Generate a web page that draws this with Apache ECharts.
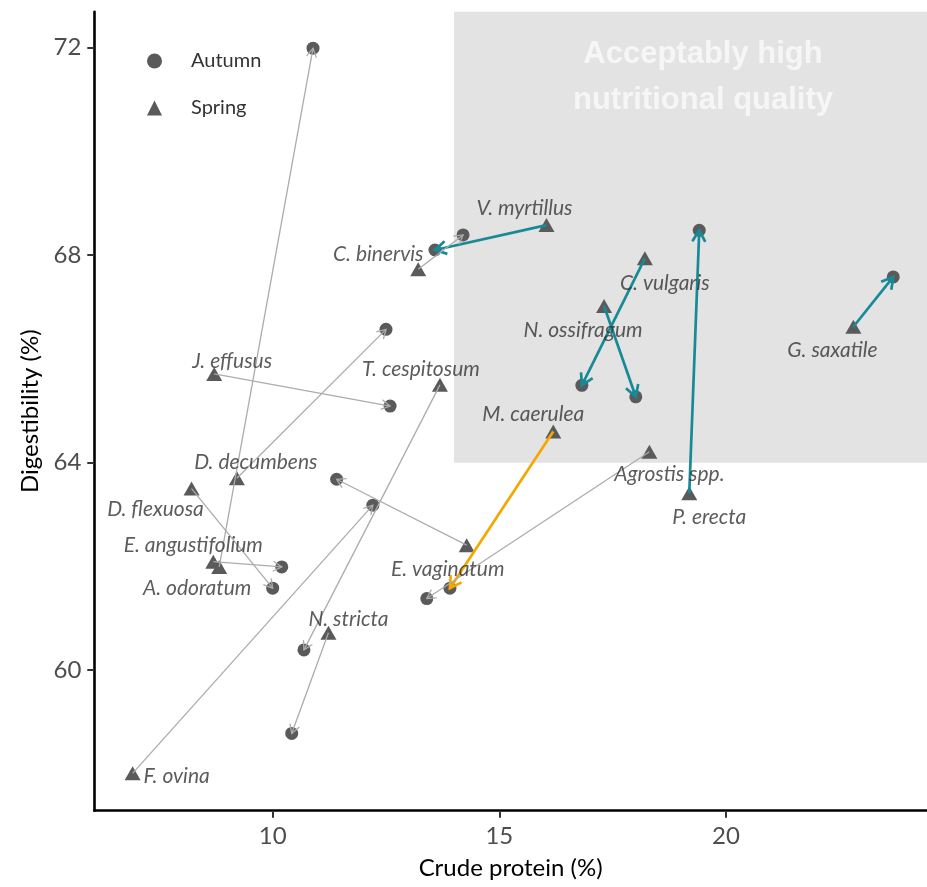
<!DOCTYPE html>
<html>
<head>
<meta charset="utf-8">
<script src="https://cdn.jsdelivr.net/npm/echarts@6/dist/echarts.min.js"></script>
<style>
  html, body { margin: 0; padding: 0; background: #fff; }
  #chart { width: 927px; height: 887px; }
</style>
</head>
<body>
<div id="chart"></div>
<script>
// Species sampled in spring and again in autumn
const species = ['V. myrtillus', 'C. binervis', 'C. vulgaris', 'N. ossifragum', 'G. saxatile',
  'P. erecta', 'J. effusus', 'T. cespitosum', 'M. caerulea', 'Agrostis spp.', 'D. decumbens',
  'D. flexuosa', 'E. angustifolium', 'A. odoratum', 'E. vaginatum', 'N. stricta', 'F. ovina'];

// Crude protein (%) and digestibility (%) per season
const springCP  = [16.04, 13.21, 18.21, 17.31, 22.81, 19.19, 8.71, 13.69, 16.19, 18.31, 9.21, 8.21, 8.69, 8.82, 14.28, 11.23, 6.91];
const springDig = [68.58, 67.73, 67.94, 67.02, 66.62, 63.41, 65.71, 65.50, 64.60, 64.21, 63.70, 63.50, 62.09, 61.99, 62.41, 60.72, 58.01];
const autumnCP  = [13.58, 14.20, 16.82, 18.01, 23.69, 19.41, 12.59, 10.69, 13.91, 13.40, 12.50, 10.00, 10.20, 10.89, 11.41, 10.42, 12.21];
const autumnDig = [68.10, 68.39, 65.49, 65.27, 67.58, 68.48, 65.09, 60.39, 61.58, 61.38, 66.57, 61.58, 61.99, 71.99, 63.68, 58.78, 63.18];

// Arrow class for each species
const arrowGroup = ['quality', 'other', 'quality', 'quality', 'quality', 'quality', 'other', 'other',
  'declining', 'other', 'other', 'other', 'other', 'other', 'other', 'other', 'other'];

// Thresholds of the acceptable-quality zone
const cpThreshold = 14;
const digThreshold = 64;

// Axis ticks
const xTicks = [10, 15, 20];
const yTicks = [60, 64, 68, 72];

// ---- presentation ----
const xMin = 6.065, xMax = 24.434, yMin = 57.29, yMax = 72.694;
const FONT = 'Lato, "Open Sans", sans-serif';
const arrowStyle = {
  quality:   { color: '#178a96', width: 2.7, head: 13 },
  declining: { color: '#f5a700', width: 2.7, head: 13 },
  other:     { color: '#acacac', width: 1.3, head: 10 }
};
// label nudges in pixels, relative to the spring point
const labelNudge = {
  'V. myrtillus': [-22, -17], 'C. binervis': [-40, -15], 'C. vulgaris': [20, 25],
  'N. ossifragum': [-21, 24], 'G. saxatile': [-21, 23], 'P. erecta': [20, 24],
  'J. effusus': [18, -13], 'T. cespitosum': [-19, -16], 'M. caerulea': [-20, -17],
  'Agrostis spp.': [20, 22], 'D. decumbens': [19, -16], 'D. flexuosa': [-36, 21],
  'E. angustifolium': [-20, -16], 'A. odoratum': [-22, 21], 'E. vaginatum': [-19, 24],
  'N. stricta': [20, -14], 'F. ovina': [44, 3]
};

const chart = echarts.init(document.getElementById('chart'));

const arrowData = species.map((s, i) => [springCP[i], springDig[i], autumnCP[i], autumnDig[i]]);

function renderArrow(params, api) {
  const p0 = api.coord([api.value(0), api.value(1)]);
  const p1 = api.coord([api.value(2), api.value(3)]);
  const st = arrowStyle[arrowGroup[params.dataIndex]];
  const ang = Math.atan2(p1[1] - p0[1], p1[0] - p0[0]);
  const a = Math.PI / 6;
  const L = st.head;
  const h1 = [p1[0] - L * Math.cos(ang - a), p1[1] - L * Math.sin(ang - a)];
  const h2 = [p1[0] - L * Math.cos(ang + a), p1[1] - L * Math.sin(ang + a)];
  return {
    type: 'group',
    children: [
      { type: 'line', shape: { x1: p0[0], y1: p0[1], x2: p1[0], y2: p1[1] },
        style: { stroke: st.color, lineWidth: st.width, lineCap: 'butt' } },
      { type: 'polyline', shape: { points: [h1, p1, h2] },
        style: { stroke: st.color, lineWidth: st.width, fill: null, lineJoin: 'miter' } }
    ]
  };
}

const option = {
  animation: false,
  backgroundColor: '#ffffff',
  textStyle: { fontFamily: FONT },
  grid: { left: 94.3, right: 0, top: 11.7, bottom: 76.3, containLabel: false },
  legend: {
    orient: 'vertical',
    left: 142,
    top: 45,
    itemWidth: 15,
    itemHeight: 15,
    itemGap: 25,
    selectedMode: false,
    data: [
      { name: 'Autumn', icon: 'circle' },
      { name: 'Spring', icon: 'triangle' }
    ],
    textStyle: { fontFamily: FONT, fontSize: 20, color: '#333', padding: [0, 0, 0, 24], lineHeight: 22 }
  },
  xAxis: {
    type: 'value', min: xMin, max: xMax,
    name: 'Crude protein (%)', nameLocation: 'middle', nameGap: 46,
    nameTextStyle: { fontFamily: FONT, fontSize: 24, color: '#000' },
    axisLine: { show: true, lineStyle: { color: '#000', width: 2.6 } },
    axisTick: { show: true, customValues: xTicks, length: 7, lineStyle: { color: '#333', width: 2 } },
    axisLabel: { customValues: xTicks, margin: 14, fontFamily: FONT, fontSize: 24, color: '#4d4d4d' },
    splitLine: { show: false }
  },
  yAxis: {
    type: 'value', min: yMin, max: yMax,
    name: 'Digestibility (%)', nameLocation: 'middle', nameGap: 52, nameRotate: 90,
    nameTextStyle: { fontFamily: FONT, fontSize: 24, color: '#000' },
    axisLine: { show: true, lineStyle: { color: '#000', width: 2.6 } },
    axisTick: { show: true, customValues: yTicks, length: 7, lineStyle: { color: '#333', width: 2 } },
    axisLabel: { customValues: yTicks, margin: 13, fontFamily: FONT, fontSize: 24, color: '#4d4d4d' },
    splitLine: { show: false }
  },
  series: [
    {
      // acceptable-quality zone
      name: 'zone', type: 'scatter', data: [], z: 0, silent: true,
      markArea: {
        silent: true,
        itemStyle: { color: '#e3e3e3' },
        label: {
          show: true, position: [249, 20], align: 'center', verticalAlign: 'top',
          formatter: 'Acceptably high\nnutritional quality',
          fontFamily: '"Liberation Sans", Arial, sans-serif', fontWeight: 'bold',
          fontSize: 31, lineHeight: 46, color: '#f6f6f6'
        },
        data: [[{ coord: [cpThreshold, digThreshold] }, { coord: [xMax, yMax] }]]
      }
    },
    {
      name: 'Autumn', type: 'scatter', z: 2,
      symbol: 'circle', symbolSize: 13,
      itemStyle: { color: '#5a5a5a', opacity: 1 },
      data: autumnCP.map((x, i) => [x, autumnDig[i]])
    },
    {
      name: 'Spring', type: 'scatter', z: 2,
      symbol: 'triangle', symbolSize: [16, 14],
      itemStyle: { color: '#5a5a5a', opacity: 1 },
      data: springCP.map((x, i) => [x, springDig[i]])
    },
    {
      name: 'arrows', type: 'custom', z: 3, silent: true,
      renderItem: renderArrow,
      encode: { x: [0, 2], y: [1, 3] },
      data: arrowData
    },
    {
      name: 'names', type: 'scatter', z: 4, silent: true,
      symbolSize: 0,
      itemStyle: { color: 'transparent' },
      label: {
        show: true, position: 'inside', formatter: '{b}',
        fontFamily: FONT, fontStyle: 'italic', fontSize: 21, color: '#333'
      },
      data: species.map((s, i) => ({
        name: s, value: [springCP[i], springDig[i]],
        label: { offset: labelNudge[s] }
      }))
    }
  ]
};

chart.setOption(option);
</script>
</body>
</html>
